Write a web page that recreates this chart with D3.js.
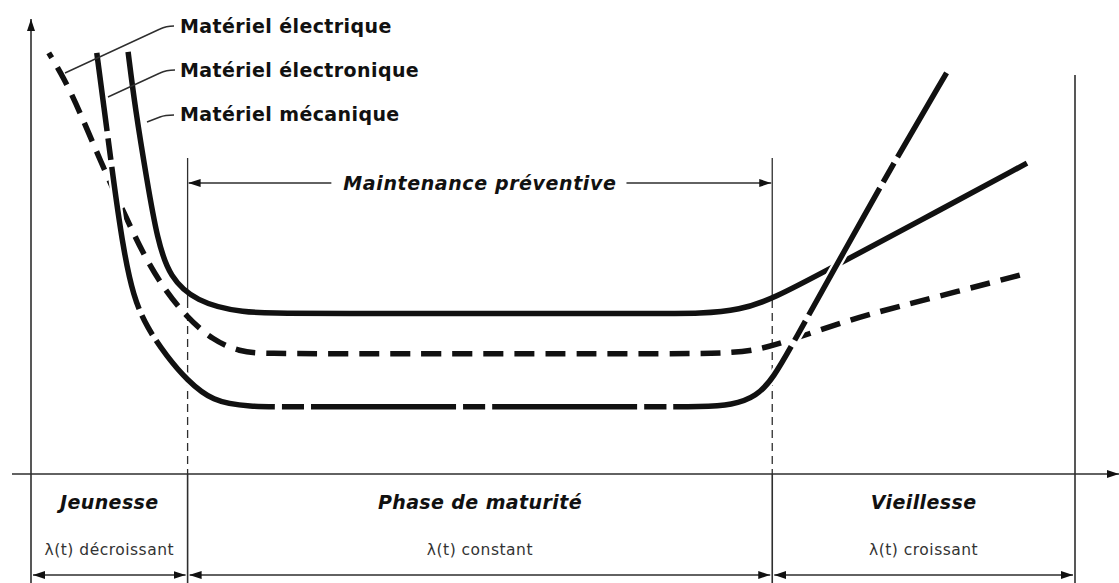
<!DOCTYPE html>
<html>
<head>
<meta charset="utf-8">
<script src="https://cdn.jsdelivr.net/npm/d3@7"></script>
<style>
  body { margin: 0; background: #fff; }
  svg { display: block; }
  text { font-family: "DejaVu Sans", sans-serif; fill: #111; }
</style>
</head>
<body>
<div id="chart"></div>
<script>
// phases of the bathtub curve (time axis 0..100)
const phaseBounds = [0, 15, 71, 100]
const phaseNames = ["Jeunesse", "Phase de maturité", "Vieillesse"]
const phaseTrends = ["λ(t) décroissant", "λ(t) constant", "λ(t) croissant"]
const preventiveLabel = "Maintenance préventive"

// failure rate curves, [t, λ]
const seriesNames = ["Matériel électrique", "Matériel électronique", "Matériel mécanique"]
const electrique = [
  [1.7, 96.6], [3.1, 91.1], [4.7, 83.0], [6.6, 72.0], [9.0, 59.4], [10.7, 50.7],
  [12.6, 42.9], [14.9, 36.0], [17.4, 30.7], [20.0, 28.0], [22.4, 27.6], [30.0, 27.6],
  [60.0, 27.6], [67.9, 27.6], [71.1, 29.4], [75.3, 32.8], [80.1, 36.6], [86.4, 40.4], [95.5, 46.1]
]
const electronique = [
  [6.3, 96.6], [7.4, 76.6], [7.9, 67.4], [8.8, 52.1], [9.8, 40.6], [11.1, 33.6],
  [13.0, 27.0], [14.9, 21.6], [17.4, 16.6], [20.7, 15.4], [25.8, 15.4],
  [60.0, 15.4], [64.1, 15.4], [67.2, 15.8], [69.5, 17.8], [71.1, 22.0], [73.0, 30.0],
  [77.8, 50.7], [82.8, 72.0], [87.7, 92.0]
]
const mecanique = [
  [9.3, 96.8], [10.0, 83.5], [11.1, 67.4], [12.1, 53.7], [13.3, 45.0], [15.8, 39.6],
  [20.0, 36.9], [25.8, 36.8], [60.0, 36.8], [64.1, 36.8], [67.9, 37.6], [71.1, 40.2],
  [76.3, 46.8], [85.0, 57.9], [95.4, 71.3]
]

const width = 1119, height = 583

const x = d3.scaleLinear().domain([0, 100]).range([31, 1075])
const y = d3.scaleLinear().domain([0, 100]).range([474, 38])

const svg = d3.select("#chart")
  .append("svg")
  .attr("width", width)
  .attr("height", height)

// arrow head
svg.append("defs").append("marker")
  .attr("id", "arrow")
  .attr("viewBox", "0 0 12 8")
  .attr("refX", 12)
  .attr("refY", 4)
  .attr("markerWidth", 12)
  .attr("markerHeight", 8)
  .attr("markerUnits", "userSpaceOnUse")
  .attr("orient", "auto-start-reverse")
  .append("path")
  .attr("d", "M0,0 L12,4 L0,8 Z")
  .attr("fill", "#111")

const thin = "#2e2e2e"

// axes
svg.append("line")
  .attr("x1", x(0)).attr("x2", x(0))
  .attr("y1", height).attr("y2", 19)
  .attr("stroke", thin).attr("stroke-width", 1.6)
  .attr("marker-end", "url(#arrow)")
svg.append("line")
  .attr("x1", 12).attr("x2", width)
  .attr("y1", y(0)).attr("y2", y(0))
  .attr("stroke", thin).attr("stroke-width", 1.6)
  .attr("marker-end", "url(#arrow)")

// phase boundaries
const mid = [phaseBounds[1], phaseBounds[2]]
mid.forEach(t => {
  // solid part on top
  svg.append("line")
    .attr("x1", x(t)).attr("x2", x(t))
    .attr("y1", 158).attr("y2", 300)
    .attr("stroke", thin).attr("stroke-width", 1.3)
  // dashed down to the time axis
  svg.append("line")
    .attr("x1", x(t)).attr("x2", x(t))
    .attr("y1", 300).attr("y2", y(0))
    .attr("stroke", thin).attr("stroke-width", 1.3)
    .attr("stroke-dasharray", "8,5")
  svg.append("line")
    .attr("x1", x(t)).attr("x2", x(t))
    .attr("y1", y(0)).attr("y2", height)
    .attr("stroke", thin).attr("stroke-width", 1.6)
})
svg.append("line")
  .attr("x1", x(100)).attr("x2", x(100))
  .attr("y1", 75).attr("y2", height)
  .attr("stroke", thin).attr("stroke-width", 1.6)

// preventive maintenance arrow
const pmY = 183
const pmMid = (x(phaseBounds[1]) + x(phaseBounds[2])) / 2
const pmText = svg.append("text")
  .attr("x", pmMid)
  .attr("y", pmY + 7)
  .attr("text-anchor", "middle")
  .style("font-size", "19px")
  .style("letter-spacing", "0.6px")
  .style("font-weight", "bold")
  .style("font-style", "italic")
  .text(preventiveLabel)
const pmW = pmText.node().getComputedTextLength()
svg.append("line")
  .attr("x1", pmMid - pmW / 2 - 12).attr("x2", x(phaseBounds[1]) + 1)
  .attr("y1", pmY).attr("y2", pmY)
  .attr("stroke", thin).attr("stroke-width", 1.5)
  .attr("marker-end", "url(#arrow)")
svg.append("line")
  .attr("x1", pmMid + pmW / 2 + 10).attr("x2", x(phaseBounds[2]) - 1)
  .attr("y1", pmY).attr("y2", pmY)
  .attr("stroke", thin).attr("stroke-width", 1.5)
  .attr("marker-end", "url(#arrow)")

// phase names and trends
const phases = phaseNames.map((name, i) => ({
  name: name,
  trend: phaseTrends[i],
  x0: x(phaseBounds[i]),
  x1: x(phaseBounds[i + 1])
}))

svg.selectAll(".phase")
  .data(phases)
  .join("text")
  .attr("class", "phase")
  .attr("x", d => (d.x0 + d.x1) / 2)
  .attr("y", 509)
  .attr("text-anchor", "middle")
  .style("font-size", "19px")
  .style("letter-spacing", "0.4px")
  .style("font-weight", "bold")
  .style("font-style", "italic")
  .text(d => d.name)

svg.selectAll(".trend")
  .data(phases)
  .join("text")
  .attr("class", "trend")
  .attr("x", d => (d.x0 + d.x1) / 2)
  .attr("y", 555)
  .attr("text-anchor", "middle")
  .style("font-size", "15.5px")
  .style("letter-spacing", "0.5px")
  .style("fill", "#333")
  .text(d => d.trend)

// double arrows under each phase
phases.forEach(d => {
  svg.append("line")
    .attr("x1", d.x0 + 2).attr("x2", d.x1 - 2)
    .attr("y1", 575).attr("y2", 575)
    .attr("stroke", thin).attr("stroke-width", 1.5)
    .attr("marker-start", "url(#arrow)")
    .attr("marker-end", "url(#arrow)")
})

// curves
const line = d3.line()
  .x(d => x(d[0]))
  .y(d => y(d[1]))
  .curve(d3.curveBasis)

svg.append("path")
  .attr("d", line(mecanique))
  .attr("fill", "none")
  .attr("stroke", "#111")
  .attr("stroke-width", 5.5)

svg.append("path")
  .attr("d", line(electrique))
  .attr("fill", "none")
  .attr("stroke", "#111")
  .attr("stroke-width", 5.5)
  .attr("stroke-dasharray", "20,11")
  .attr("stroke-dashoffset", 14)

// white halo so the electronic curve passes over the others
svg.append("path")
  .attr("d", line(electronique))
  .attr("fill", "none")
  .attr("stroke", "#fff")
  .attr("stroke-width", 10)

svg.append("path")
  .attr("d", line(electronique))
  .attr("fill", "none")
  .attr("stroke", "#111")
  .attr("stroke-width", 5.5)
  .attr("stroke-dasharray", "145,7,22,7")
  .attr("stroke-dashoffset", 66)

// series labels with leader lines
const labelY = [33, 77, 121]
const leaders = [
  "M65,73 L160,29 Q166,26 174,26",
  "M108,97 L160,73 Q166,70 175,70",
  "M147,122 L160,117 Q165,115 174,115"
]
seriesNames.forEach((name, i) => {
  svg.append("path")
    .attr("d", leaders[i])
    .attr("fill", "none")
    .attr("stroke", thin)
    .attr("stroke-width", 1.4)
  svg.append("text")
    .attr("x", 180)
    .attr("y", labelY[i])
    .style("font-size", "19px")
    .style("letter-spacing", "0.4px")
    .style("font-weight", "bold")
    .text(name)
})
</script>
</body>
</html>
